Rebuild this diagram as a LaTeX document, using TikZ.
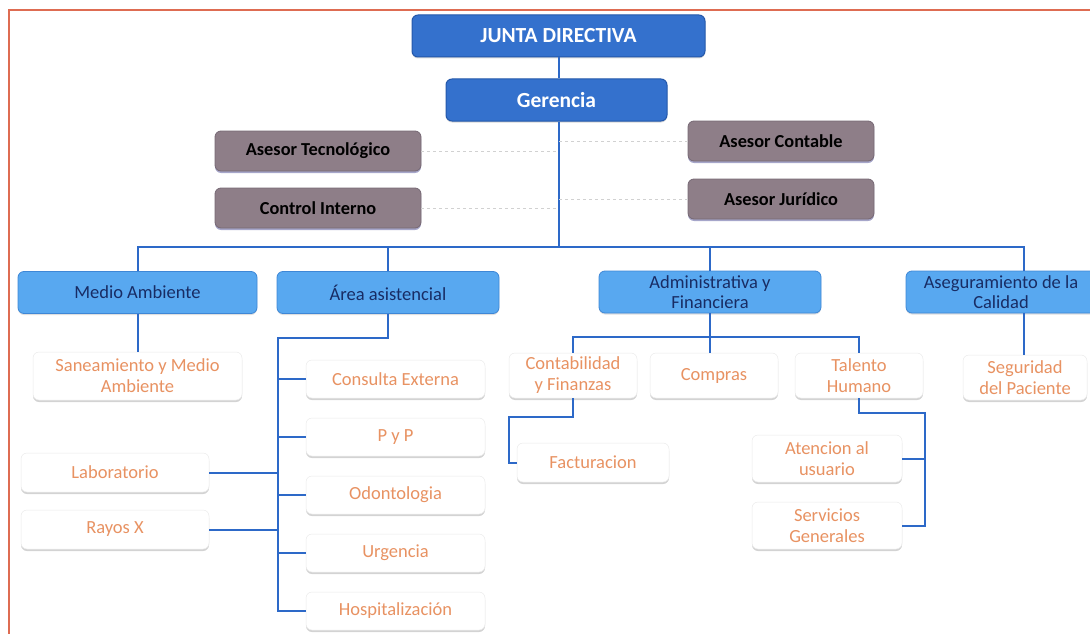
\documentclass[tikz,border=0pt]{standalone}
\usepackage{fontspec}
\setmainfont{Carlito}
\usetikzlibrary{positioning}
\usetikzlibrary{shadows}

\definecolor{juntablue}{RGB}{52,113,205}
\definecolor{juntaedge}{RGB}{36,88,170}
\definecolor{areablue}{RGB}{88,168,240}
\definecolor{areaedge}{RGB}{62,135,214}
\definecolor{areatext}{RGB}{24,44,100}
\definecolor{asesorgray}{RGB}{142,126,136}
\definecolor{asesoredge}{RGB}{118,104,116}
\definecolor{linkblue}{RGB}{45,105,200}
\definecolor{leaforange}{RGB}{232,146,98}
\definecolor{framered}{RGB}{222,108,82}

\begin{document}
\begin{tikzpicture}[%
  x=1pt, y=-1pt,
  box/.style={rounded corners=6pt, align=center, inner sep=2pt},
  topbox/.style={box, fill=juntablue, draw=juntaedge, line width=1pt,
    text=white, font=\fontsize{21.5}{24}\selectfont\bfseries,
    minimum height=42, drop shadow={shadow xshift=0pt, shadow yshift=-1.5pt, opacity=.3}},
  asesorbox/.style={box, fill=asesorgray, draw=asesoredge, line width=.8pt,
    text=black, font=\fontsize{18.3}{21}\selectfont\bfseries,
    minimum width=186, minimum height=40,
    drop shadow={shadow xshift=0pt, shadow yshift=-2pt, opacity=.35, fill=blue!40!black}},
  areabox/.style={box, fill=areablue, draw=areaedge, line width=.8pt,
    text=areatext, font=\fontsize{18.5}{20.5}\selectfont,
    minimum height=42, drop shadow={shadow xshift=0pt, shadow yshift=-1.5pt, opacity=.25}},
  leafbox/.style={box, fill=white, draw=black!8, line width=.5pt,
    text=leaforange, font=\fontsize{18.5}{21}\selectfont,
    drop shadow={shadow xshift=0pt, shadow yshift=-2pt, opacity=.35, fill=black!50}},
  link/.style={draw=linkblue, line width=2pt},
  asesorlink/.style={draw=black!18, line width=1pt, dashed},
]

  \useasboundingbox (0,0) rectangle (1090,634);
  \draw[framered, line width=1.5pt] (9,640) -- (9,10) -- (1095,10);

  \node[topbox, minimum width=293] (JD) at (558.5,36) {JUNTA DIRECTIVA};
  \node[topbox, minimum width=221] (G) at (556.5,100) {Gerencia};

  \node[asesorbox, minimum width=206] (AT) at (318,151) {Asesor Tecnológico};
  \node[asesorbox, minimum width=206] (CI) at (318,208) {Control Interno};
  \node[asesorbox] (AC) at (781,141) {Asesor Contable};
  \node[asesorbox] (AJ) at (781,199) {Asesor Jurídico};

  \coordinate (hub) at (559,247);
  \coordinate (ASin) at (1024,271);

  \node[areabox, minimum width=239] (MA) at (137.5,292.5) {Medio Ambiente};
  \node[areabox, minimum width=222] (AA) at (388,292.5) {Área asistencial};
  \node[areabox, minimum width=222] (AF) at (710,292) {Administrativa y\\Financiera};
  \node[areabox, minimum width=190] (AS) at (1001,292) {Aseguramiento de la\\Calidad};

  \node[leafbox, minimum width=209, minimum height=48] (SMA) at (137.5,376) {Saneamiento y Medio\\Ambiente};
  \node[leafbox, minimum width=188, minimum height=39] (LAB) at (115,472.5) {Laboratorio};
  \node[leafbox, minimum width=188, minimum height=39] (RX) at (115,529.5) {Rayos X};

  \node[leafbox, minimum width=179, minimum height=38] (CE) at (395.5,379) {Consulta Externa};
  \node[leafbox, minimum width=179, minimum height=38] (PP) at (395.5,437) {P y P};
  \node[leafbox, minimum width=179, minimum height=38] (OD) at (395.5,495) {Odontologia};
  \node[leafbox, minimum width=179, minimum height=38] (UR) at (395.5,553) {Urgencia};
  \node[leafbox, minimum width=179, minimum height=38] (HO) at (395.5,611) {Hospitalización};

  \node[leafbox, minimum width=128, minimum height=45] (CF) at (573,375.5) {Contabilidad\\y Finanzas};
  \node[leafbox, minimum width=128, minimum height=45] (CO) at (714,375.5) {Compras};
  \node[leafbox, minimum width=128, minimum height=45] (TH) at (859,375.5) {Talento\\Humano};
  \node[leafbox, minimum width=152, minimum height=39] (FA) at (593,462.5) {Facturacion};
  \node[leafbox, minimum width=150, minimum height=47] (AU) at (827,458.5) {Atencion al\\usuario};
  \node[leafbox, minimum width=150, minimum height=47] (SG) at (827,525.5) {Servicios\\Generales};

  \node[leafbox, minimum width=124, minimum height=45] (SP) at (1025,377.5) {Seguridad\\del Paciente};

  \draw[link] (JD.south) -- (JD.south |- G.north);
  \draw[link] (hub |- G.south) -- (hub);

  \draw[asesorlink] (AT.east) -- (AT.east -| hub);
  \draw[asesorlink] (CI.east) -- (CI.east -| hub);
  \draw[asesorlink] (AC.west) -- (AC.west -| hub);
  \draw[asesorlink] (AJ.west) -- (AJ.west -| hub);

  \draw[link] (MA.north) |- (ASin |- hub) -- (ASin);
  \draw[link] (AA.north) -- (AA.north |- hub);
  \draw[link] (AF.north) -- (AF.north |- hub);

  \draw[link] (MA.south) -- (SMA.north);

  \coordinate (AAj) at (278,338);
  \draw[link] (AA.south) |- (AAj) -- (AAj |- HO.west) -- (HO.west);
  \foreach \n in {CE,PP,OD,UR}
    \draw[link] (AAj |- \n.west) -- (\n.west);
  \foreach \n in {LAB,RX}
    \draw[link] (\n.east) -- (AAj |- \n.east);

  \coordinate (AFj) at (710,337);
  \draw[link] (AF.south) -- (AFj);
  \draw[link] (CF.north) |- (AFj) -| (TH.north);
  \draw[link] (AFj) -- (AFj |- CO.north);

  \coordinate (CFj) at (509,417);
  \draw[link] (CF.south) |- (CFj) |- (FA.west);

  \coordinate (THj) at (925,413);
  \draw[link] (TH.south) |- (THj) |- (SG.east);
  \draw[link] (AU.east) -- (AU.east -| THj);

  \draw[link] (ASin |- AS.south) -- (ASin |- SP.north);

\end{tikzpicture}
\end{document}
